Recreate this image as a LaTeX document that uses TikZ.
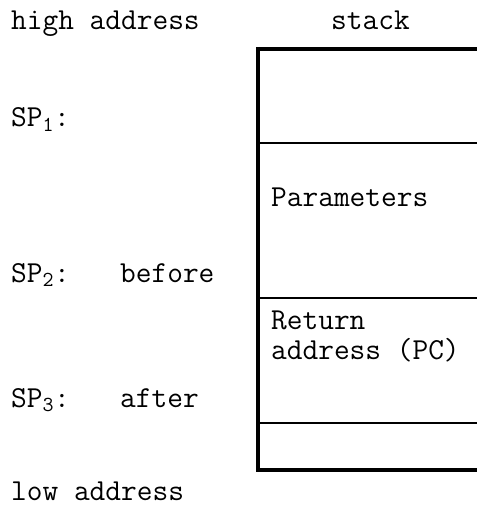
\documentclass[tikz,border=0pt]{standalone}
\begin{document}
\begin{tikzpicture}[x=1bp,y=1bp,
  lbl/.style={inner sep=0pt, anchor=base west, text depth=0pt,
    font=\ttfamily\fontsize{30.5bp}{34bp}\selectfont},
  frame/.style={line width=4bp, line cap=butt},
  divider/.style={line width=2.5bp, line cap=butt}]
  \useasboundingbox (0,0) rectangle (477,-506);

  % stack outline (open to the right)
  \coordinate (tl) at (258,-49);
  \coordinate (bl) at (258,-470);
  \coordinate (tr) at (477,-49);
  \coordinate (br) at (477,-470);
  \draw[frame] (tr) -- (tl) -- (bl) -- (br);
  \draw[frame] (258,-47) -- (tl);
  \draw[frame] (bl) -- (258,-472);

  % slot dividers
  \coordinate (d1l) at (258,-143); \coordinate (d1r) at (477,-143);
  \coordinate (d2l) at (258,-298); \coordinate (d2r) at (477,-298);
  \coordinate (d3l) at (258,-423); \coordinate (d3r) at (477,-423);
  \draw[divider] (d1l) -- (d1r);
  \draw[divider] (d2l) -- (d2r);
  \draw[divider] (d3l) -- (d3r);

  % labels
  \node[lbl] (high) at (11,-30) {high address};
  \node[lbl, anchor=base] (stack) at (370.5,-30) {stack};
  \node[lbl] (sp1) at (11,-127) {SP\textsubscript{1}:};
  \node[lbl] (sp2) at (11,-282) {SP\textsubscript{2}:};
  \node[lbl] (before) at (120,-282) {before};
  \node[lbl] (sp3) at (11,-407) {SP\textsubscript{3}:};
  \node[lbl] (after) at (120,-407) {after};
  \node[lbl] (low) at (11,-500) {low address};
  \node[lbl] (params) at (271,-206) {Parameters};
  \node[lbl] (ret) at (271,-329) {Return};
  \node[lbl] (retpc) at (271,-359) {address (PC)};
\end{tikzpicture}
\end{document}
